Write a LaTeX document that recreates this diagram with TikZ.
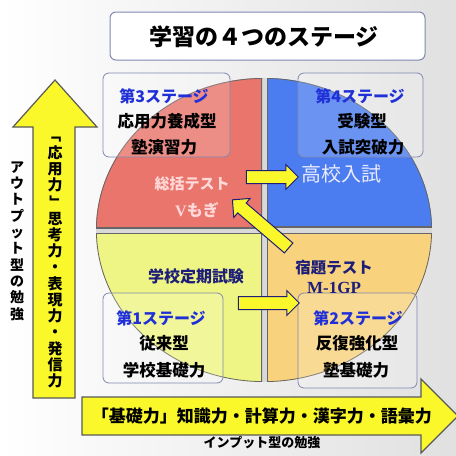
\documentclass[tikz,border=0pt]{standalone}
\usepackage{fontspec}
\setmainfont{Noto Sans CJK JP}
\newfontfamily\latinserif{Liberation Serif}
\usepackage{graphicx,xcolor}
\usepackage{tikz}
\usetikzlibrary{shapes.arrows,positioning}

\definecolor{redq}{HTML}{E9756C}
\definecolor{blueq}{HTML}{4B7DF0}
\definecolor{yellowq}{HTML}{EEF584}
\definecolor{orangeq}{HTML}{F8D27D}
\definecolor{arrowyellow}{HTML}{FAF82A}
\definecolor{navy}{HTML}{1E1E7A}
\definecolor{stageblue}{HTML}{2030D8}
\definecolor{boxline}{HTML}{8088B0}

\newcommand{\vbr}[1]{\rotatebox[origin=c]{-90}{#1}}

\begin{document}
\begin{tikzpicture}[x=1pt,y=-1pt]
	\tikzstyle{titlebox} = [draw = boxline, rounded corners = 6, fill = white, line width = 1]
	\tikzstyle{stagebox} = [draw = boxline, rounded corners = 6, fill = white, fill opacity = 0.18, line width = 0.8]
	\tikzstyle{stagename} = [text = stageblue, font = \fontsize{16}{16}\selectfont\bfseries]
	\tikzstyle{stagetext} = [text = black, font = \fontsize{16.5}{16.5}\selectfont\bfseries]
	\tikzstyle{smallarrow} = [single arrow, draw = navy, fill = arrowyellow, line width = 1, inner xsep = 0, inner ysep = 6, single arrow head extend = 6, allow upside down, sloped]
	\tikzstyle{bigarrow} = [draw = black!65, fill = arrowyellow, line width = 1.2]
\useasboundingbox (0,0) rectangle (456,456);
\fill[left color = white, right color = black!12] (0,0) rectangle (456,456);

% title
\node[titlebox, minimum width = 315, minimum height = 48] (title) at (267.5,36) {};
\node[font = \fontsize{23}{23}\selectfont\bfseries] at (264,37) {学習の４つのステージ};

% circle in four parts
\fill[black!15] (264,230) ellipse [x radius = 168, y radius = 152];
\foreach \col/\xa/\ya/\xb/\yb in {redq/90/70/262/228, blueq/267/70/440/227, yellowq/90/233/262/395, orangeq/267/233/440/395}
{
	\begin{scope}
	\clip (\xa,\ya) rectangle (\xb,\yb);
	\clip (264,230) ellipse [x radius = 168, y radius = 152];
	\fill[\col] (\xa,\ya) rectangle (\xb,\yb);
	\draw[black!60, line width = 1.6] (\xa,\ya) rectangle (\xb,\yb);
	\draw[black!60, line width = 1.6] (264,230) ellipse [x radius = 168, y radius = 152];
	\end{scope}
}

% stage boxes
\node[stagebox, minimum width = 127, minimum height = 84] (st3) at (166.5,115) {};
\node[stagebox, minimum width = 125, minimum height = 84] (st4) at (360.5,115) {};
\node[stagebox, minimum width = 120, minimum height = 90] (st1) at (163,338) {};
\node[stagebox, minimum width = 119, minimum height = 95] (st2) at (357.5,340.5) {};

\node[stagename] at (164,96) {第3ステージ};
\node[stagetext] at (167,121) {応用力養成型};
\node[stagetext] at (164,147) {塾演習力};

\node[stagename] at (360,96) {第4ステージ};
\node[stagetext] at (362,121) {受験型};
\node[stagetext] at (363,147) {入試突破力};

\node[stagename] at (161,318) {第1ステージ};
\node[stagetext] at (164,343) {従来型};
\node[stagetext] at (164,370) {学校基礎力};

\node[stagename] at (358,318) {第2ステージ};
\node[stagetext] at (357,343) {反復強化型};
\node[stagetext] at (356,370) {塾基礎力};

% tests
\node[text = red!15, font = \fontsize{15}{15}\selectfont\bfseries] (sougatsu) at (192,184) {総括テスト};
\node[text = red!15, font = \fontsize{16}{16}\selectfont\bfseries] (vmogi) at (197,210) {{\latinserif V}もぎ};
\node[text = blue!8, font = \fontsize{20}{20}\selectfont] (nyushi) at (341,174) {高校入試};
\node[text = navy, font = \fontsize{16}{16}\selectfont\bfseries] (teiki) at (196,276) {学校定期試験};
\node[text = navy, font = \fontsize{15.5}{15.5}\selectfont\bfseries] (shukudai) at (334,268) {宿題テスト};
\node[text = navy, font = \fontsize{17}{17}\selectfont\bfseries\latinserif] (m1gp) at (334,288) {M-1GP};

% arrows between the stages
\coordinate (a1) at (243,177);
\coordinate (a1e) at (295,177);
\coordinate (a2) at (235,303);
\coordinate (a2e) at (296,303);
\coordinate (a3) at (291,250);
\coordinate (a3e) at (235,202);
\path (a1) -- (a1e) node[midway, smallarrow, minimum height = 52] {};
\path (a2) -- (a2e) node[midway, smallarrow, minimum height = 61] {};
\path (a3) -- (a3e) node[midway, smallarrow, minimum height = 74] {};

% output axis
\draw[bigarrow] (33,398) -- (33,127) -- (13,127) -- (55,80) -- (97,127) -- (75,127) -- (75,398) -- cycle;
\node[font = \fontsize{15}{16.25}\selectfont\bfseries, align = center, inner sep = 0] (apply) at (55,258)
	{\vbr{「}\\応\\用\\力\\\vbr{」}\\思\\考\\力\\・\\表\\現\\力\\・\\発\\信\\力};
\node[font = \fontsize{14}{16.3}\selectfont\bfseries, align = center, inner sep = 0] (output) at (17,241)
	{ア\\ウ\\ト\\プ\\ッ\\ト\\型\\の\\勉\\強};

% input axis
\draw[bigarrow] (82,397) -- (421,397) -- (421,379) -- (458,416) -- (421,453) -- (421,435) -- (82,435) -- cycle;
\node[font = \fontsize{17}{17}\selectfont\bfseries] (basic) at (262,416) {「基礎力」知識力・計算力・漢字力・語彙力};
\node[font = \fontsize{13}{13}\selectfont\bfseries] (input) at (262,443) {インプット型の勉強};
\end{tikzpicture}
\end{document}
